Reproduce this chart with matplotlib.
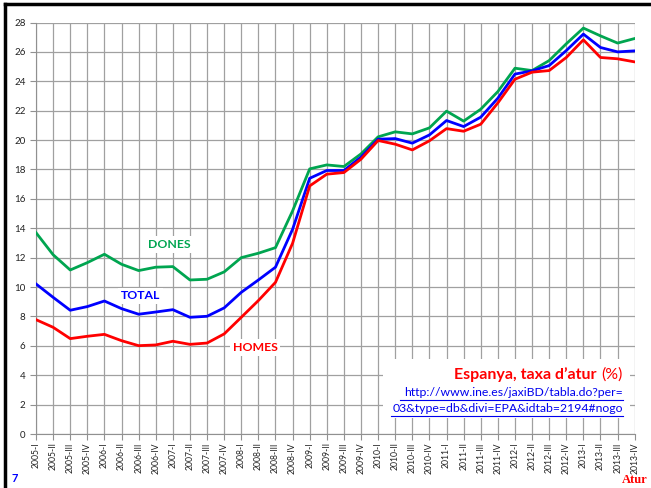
import matplotlib
matplotlib.use("Agg")
import matplotlib.pyplot as plt
from matplotlib.lines import Line2D

plt.rcParams['font.family'] = ['Lato', 'DejaVu Sans']

quarters = []
for year in range(2005, 2014):
    for q in ['I', 'II', 'III', 'IV']:
        quarters.append(f"{year}-{q}")

# unemployment rate, women
dones = [13.7, 12.2, 11.16, 11.66, 12.23, 11.55, 11.12, 11.35, 11.39, 10.48, 10.53, 11.03,
         12.0, 12.3, 12.68, 15.18, 18.04, 18.31, 18.2, 19.06, 20.22, 20.56, 20.42, 20.83,
         21.97, 21.29, 22.1, 23.3, 24.89, 24.73, 25.41, 26.55, 27.62, 27.09, 26.6, 26.91]
# unemployment rate, total
total = [10.21, 9.3, 8.42, 8.67, 9.05, 8.53, 8.15, 8.3, 8.46, 7.94, 8.01, 8.58,
         9.64, 10.48, 11.35, 13.93, 17.4, 17.93, 17.93, 18.84, 20.06, 20.1, 19.79, 20.35,
         21.33, 20.92, 21.56, 22.85, 24.49, 24.71, 25.07, 26.09, 27.21, 26.3, 26.0, 26.07]
# unemployment rate, men
homes = [7.78, 7.26, 6.49, 6.65, 6.78, 6.35, 6.01, 6.06, 6.31, 6.1, 6.19, 6.81,
         7.94, 9.08, 10.32, 12.98, 16.88, 17.68, 17.79, 18.7, 19.97, 19.72, 19.33, 19.95,
         20.78, 20.6, 21.08, 22.53, 24.14, 24.62, 24.73, 25.62, 26.82, 25.62, 25.53, 25.32]

fig = plt.figure(figsize=(6.51, 4.88), dpi=100)
ax = fig.add_axes([36 / 651, 1 - 434 / 488, (634.7 - 36) / 651, (434 - 22.5) / 488])

x = list(range(len(quarters)))
ax.plot(x, dones, color='#00A550', linewidth=2, zorder=3)
ax.plot(x, total, color='#0000FF', linewidth=2, zorder=3)
ax.plot(x, homes, color='#FF0000', linewidth=2, zorder=3)

ax.set_xlim(0, len(quarters) - 1)
ax.set_ylim(0, 28)
ax.set_yticks(range(0, 29, 2))
ax.set_xticks(x)
ax.set_xticklabels(quarters, rotation=90, fontsize=6.2, color='#222222')
ax.tick_params(axis='y', labelsize=7, colors='#222222', length=4, color='#909090')
ax.tick_params(axis='x', length=4, color='#909090', pad=2)
ax.grid(True, color='#a0a0a0', linewidth=0.9)
for side in ['top', 'right']:
    ax.spines[side].set_visible(False)
for side in ['left', 'bottom']:
    ax.spines[side].set_color('#909090')

box = dict(facecolor='white', edgecolor='none', pad=2)
ax.text(7.8, 12.9, 'DONES', color='#00A550', fontsize=8.8, fontweight='bold', ha='center', va='center', bbox=box, zorder=4)
ax.text(6.1, 9.4, 'TOTAL', color='#0000FF', fontsize=8.8, fontweight='bold', ha='center', va='center', bbox=box, zorder=4)
ax.text(12.8, 5.9, 'HOMES', color='#FF0000', fontsize=8.8, fontweight='bold', ha='center', va='center', bbox=box, zorder=4)

# source box
fig.patches.append(plt.Rectangle((383 / 651, 1 - 418 / 488), (630 - 383) / 651, (418 - 359) / 488,
                                 transform=fig.transFigure, facecolor='white', edgecolor='none', zorder=5))
fig.text(597 / 651, 1 - 375 / 488, "Espanya, taxa d’atur", color='#FF0000', fontsize=11.5,
         fontweight='bold', ha='right', va='center', zorder=6)
fig.text(623 / 651, 1 - 375 / 488, "(%)", color='#FF0000', fontsize=11.5, ha='right', va='center', zorder=6)
fig.text(623 / 651, 1 - 392 / 488, "http://www.ine.es/jaxiBD/tabla.do?per=", color='#0000EE', fontsize=8.8,
         ha='right', va='center', zorder=6)
fig.text(623 / 651, 1 - 408 / 488, "03&type=db&divi=EPA&idtab=2194#nogo", color='#0000EE', fontsize=8.8,
         ha='right', va='center', zorder=6)
fig.add_artist(Line2D([400 / 651, 623 / 651], [1 - 399.5 / 488, 1 - 399.5 / 488], color='#0000EE', linewidth=0.8, zorder=6))
fig.add_artist(Line2D([391 / 651, 623 / 651], [1 - 415.5 / 488, 1 - 415.5 / 488], color='#0000EE', linewidth=0.8, zorder=6))

# frame
fig.add_artist(Line2D([5 / 651, 1], [1 - 4 / 488, 1 - 4 / 488], color='black', linewidth=2.5))
fig.add_artist(Line2D([5 / 651, 5 / 651], [0, 1 - 4 / 488], color='black', linewidth=2.5))

fig.text(11 / 651, 1 - 479 / 488, '7', color='#0000FF', fontsize=8, fontweight='bold', ha='left', va='center')
fig.text(648 / 651, 1 - 480 / 488, 'Atur', color='#FF0000', fontsize=9, fontweight='bold',
         family='Liberation Serif', ha='right', va='center')

fig.savefig('out.png', dpi=100)
